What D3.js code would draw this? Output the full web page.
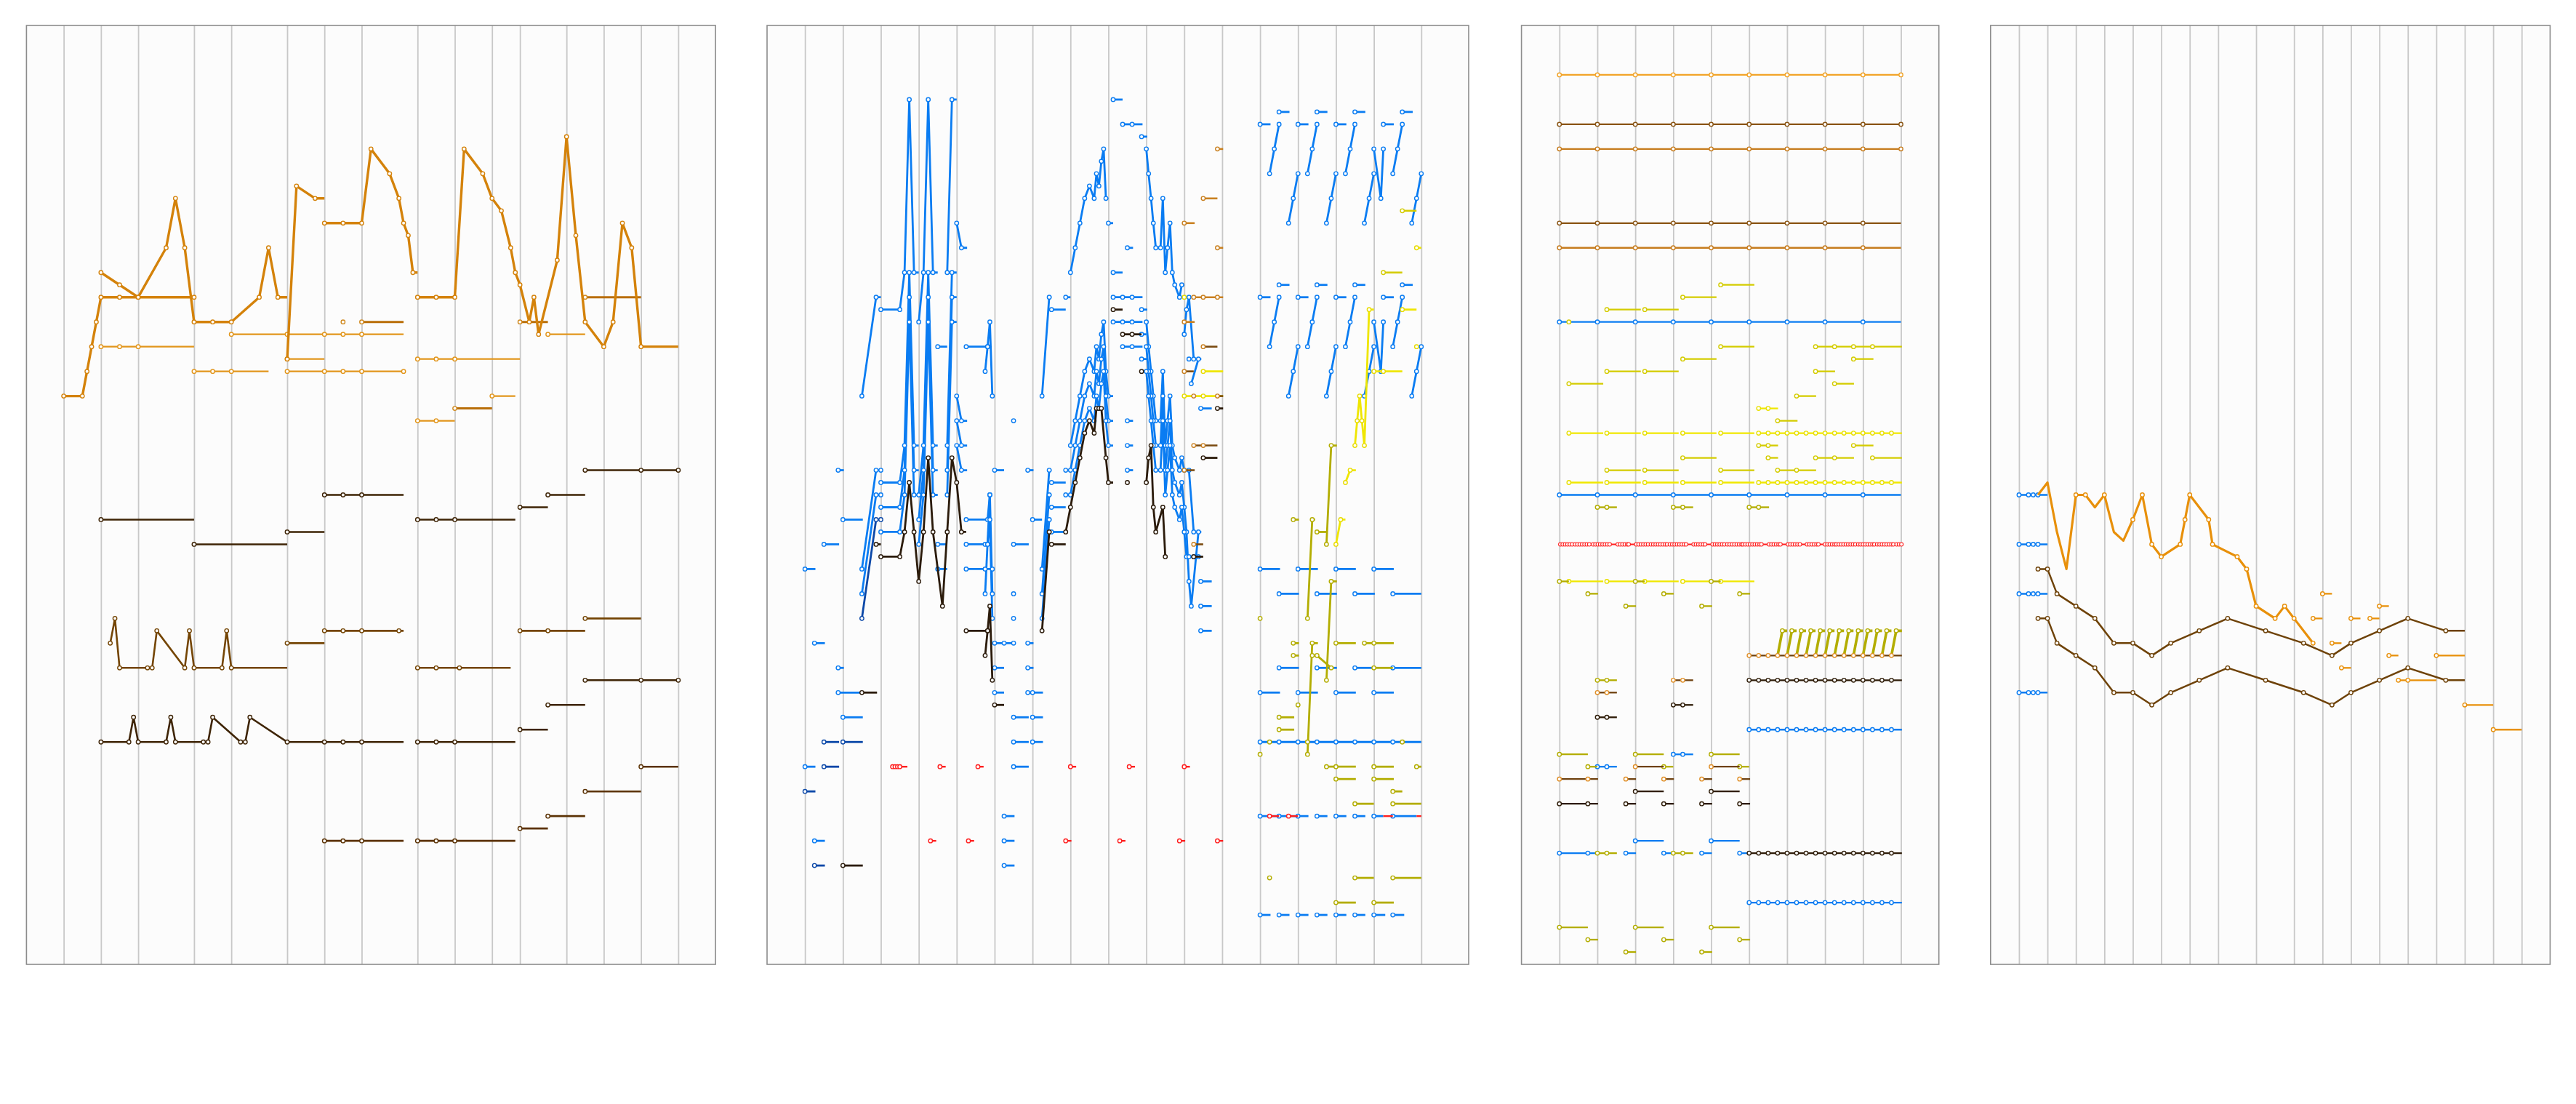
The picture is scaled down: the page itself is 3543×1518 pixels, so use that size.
<!DOCTYPE html>
<html><head><meta charset="utf-8">
<script src="https://cdn.jsdelivr.net/npm/d3@7"></script>
<style>html,body{margin:0;padding:0;background:#fff;}svg{display:block;}</style>
</head><body>
<script>
// ---------- DATA (t = time position, L = row level from top) ----------
// segment: list of [t,L] notes (circle), [t,L,0] point without circle, [tEnd] = hold last level until tEnd
const p1Grid = [2,4,6,9,11,14,16,18,21,23,25,26.5,29,31,33,35];
const p2Grid = [2,4,6,8,10,12,14,16,18,20,22,24,26,28,30,32,34.5];
const p3Grid = [4,8,12,16,20,24,28,32,36,40];
const p4Grid = [3,6,9,12,15,18,21,24,28,32,35,38,41,44,47,50,53,56];

// Panel 1
const p1OrangeThick = [
 [[2,15],[3,15],[3.25,14],[3.5,13],[3.75,12],[4,11],[5,11],[6,11],[9,11]],
 [[4,10],[5,10.5],[6,11],[7.5,9],[8,7],[8.5,9],[9,12],[10,12],[11,12],[12.5,11],[13,9],[13.5,11],[14]],
 [[14,13.5],[14.5,6.5],[15.5,7],[16]],
 [[16,8],[17,8],[18,8],[18.5,5],[19.5,6],[20,7],[20.25,8],[20.5,8.5],[20.75,10],[21]],
 [[21,11],[22,11],[23,11],[23.5,5],[24.5,6],[25,7],[25.5,7.5],[26,9],[26.25,10],[26.5,10.5],[27,12],[27.25,11],[27.5,12.5],[28.5,9.5],[29,4.5],[29.5,8.5],[30,12],[31,13],[31.5,12],[32,8],[32.5,9],[33,13],[35]]
];
const p1OrangeLight = [
 [[4,13],[5,13],[6,13],[9]],
 [[9,14],[10,14],[11,14],[13]],
 [[11,12.5],[14,12.5],[16,12.5],[17,12.5],[18,12.5],[20.25]],
 [[14,14],[16,14],[17,14],[18,14],[20.25,14]],
 [[14,13.5],[16]],
 [[21,13.5],[22,13.5],[23,13.5],[26.5]],
 [[21,16],[22,16],[23]],
 [[25,15],[26.25]],
 [[28,12.5],[30]]
];
const p1OrangeDark = [
 [[17,12]], [[18,12],[20.25]], [[23,15.5],[25]], [[26.5,12],[28]], [[30,11],[33]]
];
const p1BrownDark = [
 [[4,20],[9]], [[9,21],[14]], [[14,20.5],[16]], [[16,19],[17,19],[18,19],[20.25]],
 [[21,20],[22,20],[23,20],[26.25]], [[26.5,19.5],[28]], [[28,19],[30]], [[30,18],[33,18],[35,18]],
 [[4,29],[5.5,29],[5.75,28],[6,29],[7.5,29],[7.75,28],[8,29],[9.5,29],[9.75,29],[10,28],[11.5,29],[11.75,29],[12,28],[14,29],[16,29],[17,29],[18,29],[20.25]],
 [[21,29],[22,29],[23,29],[26.25]], [[26.5,28.5],[28]], [[28,27.5],[30]], [[30,26.5],[33,26.5],[35,26.5]]
];
const p1BrownMid = [
 [[4.5,25],[4.75,24],[5,26],[6.5,26],[6.75,26],[7,24.5],[8.5,26],[8.75,24.5],[9,26],[10.5,26],[10.75,24.5],[11,26],[14]],
 [[14,25],[16]], [[16,24.5],[17,24.5],[18,24.5],[20,24.5],[20.25]],
 [[21,26],[22,26],[23.25,26],[26]], [[26.5,24.5],[28,24.5],[30]], [[30,24],[33]]
];
const p1BrownLow = [
 [[16,33],[17,33],[18,33],[20.25]], [[21,33],[22,33],[23,33],[26.25]],
 [[26.5,32.5],[28]], [[28,32],[30]], [[30,31],[33]], [[33,30],[35]]
];

// Panel 2
const p2Blue = [
 [[2,22],[2.55]], [[2,30],[2.55]], [[2.5,25],[3.05]], [[2.5,33],[3.05]], [[3,21],[3.8]],
 [[3.75,18],[4.05]], [[3.75,26],[4.05]], [[3.75,27],[5]], [[4,20],[5.05]], [[4,28],[5.05]],
 [[5,15],[5.75,11],[6]],
 [[5,22],[5.75,18],[6,18]],
 [[5,23],[5.75,19],[6,19]],
 [[6,11.5],[7,11.5],[7.25,10],[7.5,3],[7.75,10],[8]],
 [[6,18.5],[7,18.5],[7.25,17],[7.5,10],[7.75,17],[8]],
 [[6,19.5],[7,19.5],[7.25,18],[7.5,11],[7.75,18],[8]],
 [[6,20.5],[7,20.5],[7.25,19],[7.5,12],[7.75,19],[8]],
 [[8,12],[8.25,10],[8.5,3],[8.75,10],[9]],
 [[8,19],[8.25,17],[8.5,10],[8.75,17],[9]],
 [[8,20],[8.25,18],[8.5,11],[8.75,18],[9]],
 [[8,21],[8.25,19],[8.5,12],[8.75,19],[9]],
 [[9,13],[9.5]], [[9,21],[9.5]], [[9,22],[9.5]],
 [[9.5,10],[9.75,3],[10]],
 [[9.5,17],[9.75,10],[10]],
 [[9.5,18],[9.75,11],[10]],
 [[9.5,19],[9.75,12],[10]],
 [[10,8],[10.25,9],[10.55]],
 [[10,15],[10.25,16],[10.55]], [[10,16],[10.25,17],[10.55]], [[10,17],[10.25,18],[10.55]],
 [[10.5,13],[11.63,13],[11.75,12],[11.88,15],[12]],
 [[11.5,14],[11.63,13]],
 [[10.5,20],[11.63,20],[11.75,19],[11.88,23],[12]],
 [[10.5,21],[11.5,21],[11.63,21],[11.75,20],[11.88,24],[12]],
 [[10.5,22],[11.5,22],[11.88,22],[12]],
 [[11.5,23],[11.75,19]],
 [[12,18],[12.5]],
 [[12,25],[12.5,25],[13,25]],
 [[12,26],[12.5]], [[12,27],[12.5]],
 [[12.5,32],[13.05]], [[12.5,33],[13.05]], [[12.5,34],[13.05]],
 [[13,16]], [[13,21],[13.8]], [[13,23]], [[13,24]],
 [[13,28],[13.8]], [[13,29],[13.8]], [[13,30],[13.8]],
 [[13.75,18],[14.05]], [[13.75,25],[14.05]], [[13.75,26],[14.05]], [[13.75,27],[14,27],[14.55]],
 [[14,20],[14.5]], [[14,28],[14.55]], [[14,29],[14.55]],
 [[14.5,15],[14.88,11],[15]], [[15,11.5],[15.75]],
 [[14.5,22],[14.88,18],[15]], [[14.5,23],[14.88,19],[15]], [[14.5,24],[14.88,20],[15]],
 [[15,18.5],[15.75]], [[15,19.5],[15.75]], [[15,20.5],[15.75]],
 [[15.75,11],[16]],
 [[16,10],[16.25,9],[16.5,8],[16.75,7],[17,6.5],[17.25,7],[17.37,6],[17.5,6.5],[17.63,5.5],[17.75,5],[17.87,7],[18]],
 [[16,17],[16.25,16],[16.5,15],[16.75,14],[17,13.5],[17.25,14],[17.37,13],[17.5,13.5],[17.63,12.5],[17.75,12],[17.87,14],[18,15],[18.25]],
 [[15.75,18],[16,18],[16.25,17],[16.5,16],[16.75,15],[17,14.5],[17.25,15],[17.37,14],[17.5,14.5],[17.63,13.5],[17.75,13],[17.87,15],[18,16],[18.25]],
 [[15.75,19],[16,19],[16.25,18],[16.5,17],[16.75,16],[17,15.5],[17.25,16],[17.37,15],[17.5,15.5],[17.63,14.5],[17.75,14],[17.87,16],[18,17],[18.25]],
 [[18,8],[18.25]], [[18.25,3],[18.75]], [[18.75,4],[19.25,4],[19.8]], [[19.75,4.5],[20.05]],
 [[18.25,10],[18.75]], [[18.25,11],[18.75,11],[19.25,11],[19.8]], [[18.25,12],[18.75,12],[19.25,12],[19.8]], [[18.75,13],[19.25,13],[19.8]],
 [[19,9],[19.3]], [[19.75,11.5],[20.05]], [[19.75,12.5],[20]], [[19.75,13.5],[20.05]],
 [[19,16],[19.3]], [[19,17],[19.3]], [[19,18],[19.3]],
 [[20,5],[20.12,6],[20.25,7],[20.37,8],[20.5,9],[20.75,9],[20.87,7],[21,10],[21.12,9],[21.25,8],[21.37,10],[21.5,10.5],[21.75,11],[21.87,10.5],[22]],
 [[22,12.5],[22.12,11.5],[22.25,11],[22.5,13.5],[22.6]],
 [[22.25,13.5]], [[22.37,14.5],[22.75,13.5],[22.9]],
 [[20,12],[20.12,13],[20.25,14],[20.37,15],[20.5,16],[20.75,16],[20.87,14],[21,17],[21.12,16],[21.25,15],[21.37,17],[21.5,17.5],[21.75,18],[21.87,17.5],[22,18],[22.25,18],[22.5,20.5],[22.6]],
 [[20,13],[20.12,14],[20.25,15],[20.37,16],[20.5,17],[20.75,17],[20.87,15],[21,18],[21.12,17],[21.25,16],[21.37,18],[21.5,18.5],[21.75,19],[21.87,18.5],[22,19.5],[22.12,20.5],[22.25,22.5],[22.37,23.5],[22.75,20.5],[22.9]],
 [[20,14],[20.12,15],[20.25,16],[20.37,17],[20.5,18],[20.75,18],[20.87,16],[21,19],[21.12,18],[21.25,17],[21.37,19],[21.5,19.5],[21.75,20],[21.87,19.5],[22,20.5],[22.12,21.5],[22.25,21.5],[22.5,21.5],[22.75,21.5],[22.9]],
 [[22.87,15.5],[23.45]], [[22.87,22.5],[23.45]], [[22.87,23.5],[23.45]], [[22.87,24.5],[23.45]],
 [[26,4],[26.55]], [[27,3.5],[27.55]], [[26.5,6],[26.75,5],[27,4]], [[27.5,8],[27.75,7],[28,6]],
 [[28,4],[28.55]], [[29,3.5],[29.55]], [[28.5,6],[28.75,5],[29,4]], [[29.5,8],[29.75,7],[30,6]],
 [[30,4],[30.55]], [[31,3.5],[31.55]], [[30.5,6],[30.75,5],[31,4]], [[31.5,8],[31.75,7],[32,6]],
 [[32,5],[32.37,7],[32.5,5]],
 [[32.5,4],[33.05]], [[33.5,3.5],[34.05]], [[33,6],[33.25,5],[33.5,4]], [[34,8],[34.25,7],[34.5,6]],
 [[26,11],[26.55]], [[27,10.5],[27.55]], [[26.5,13],[26.75,12],[27,11]], [[27.5,15],[27.75,14],[28,13]],
 [[28,11],[28.55]], [[29,10.5],[29.55]], [[28.5,13],[28.75,12],[29,11]], [[29.5,15],[29.75,14],[30,13]],
 [[30,11],[30.55]], [[31,10.5],[31.55]], [[30.5,13],[30.75,12],[31,11]], [[31.5,15],[31.75,14],[32,13]],
 [[32,12],[32.37,14],[32.5,12]],
 [[32.5,11],[33.05]], [[33.5,10.5],[34.05]], [[33,13],[33.25,12],[33.5,11]], [[34,15],[34.25,14],[34.5,13]],
 [[26,22],[27.05]], [[28,22],[29.05]], [[30,22],[31.05]], [[32,22],[33.05]],
 [[27,23],[28.05]], [[29,23],[30.05]], [[31,23],[32.05]], [[33,23],[34.5]],
 [[27,26],[28.05]], [[29,26],[30.05]], [[31,26],[32.05]], [[33,26],[34.5]],
 [[26,27],[27.05]], [[28,27],[29.05]], [[30,27],[31.05]], [[32,27],[33.05]],
 [[26,29],[27,29],[28,29],[29,29],[30,29],[31,29],[32,29],[33,29],[34.5]],
 [[26,32],[27,32],[28,32],[28.55]], [[29,32],[29.55]], [[30,32],[30.55]], [[31,32],[31.55]], [[32,32],[32.5]], [[33,32],[34.25]],
 [[26,36],[26.55]], [[27,36],[27.55]], [[28,36],[28.55]], [[29,36],[29.55]], [[30,36],[30.55]], [[31,36],[31.55]], [[32,36],[32.6]], [[33,36],[33.6]]
];
const p2BlueDark = [
 [[2,31],[2.55]], [[2.5,34],[3.05]], [[3,29],[3.8]], [[3,30],[3.8]], [[4,29],[5.05]], [[5,24],[5.75,20],[6,20]]
];
const p2Red = [
 [[6.62,30],[6.75,30],[6.88,30],[7,30],[7.4]], [[9.12,30],[9.42]], [[11.12,30],[11.42]], [[16,30],[16.3]], [[19.1,30],[19.4]], [[22,30],[22.3]],
 [[8.62,33],[8.92]], [[10.62,33],[10.92]], [[15.75,33],[16.05]], [[18.6,33],[18.9]], [[21.75,33],[22.05]], [[23.75,33],[24.05]],
 [[26.5,32],[27]], [[27.5,32],[28]], [[32.5,32,0],[33]], [[34.25,32,0],[34.5]]
];
const p2BrownDark = [
 [[4,34],[5.05]], [[5,27],[5.8]], [[5.75,21],[6]],
 [[6,21.5],[7,21.5],[7.25,20.5],[7.5,18.5],[7.75,20.5],[8,22.5],[8.25,20.5],[8.5,17.5],[8.75,20.5],[9.25,23.5],[9.5,20.5],[9.75,17.5],[10,18.5],[10.25,20.5],[10.5]],
 [[10.5,24.5],[11.63,24.5],[11.75,23.5],[11.88,26.5],[12]],
 [[11.5,25.5],[11.63,24.5]],
 [[12,27.5],[12.5]],
 [[14.5,24.5],[14.88,20.5],[15]], [[15,21],[15.75]],
 [[15.75,20.5],[16,19.5],[16.25,18.5],[16.5,17.5],[16.75,16.5],[17,16],[17.25,16.5],[17.37,15.5],[17.5,15.5],[17.63,15.5],[17.87,17.5],[18,18.5],[18.25]],
 [[18.25,11.5],[18.75]], [[18.75,12.5],[19.25,12.5],[19.75]], [[19.75,14]], [[19,18.5]],
 [[20,18.5],[20.12,17.5],[20.25,17],[20.37,19.5],[20.5,20.5],[20.87,19.5],[21,21.5],[21.12]],
 [[22.5,21.5],[23]], [[23,17.5],[23.75]], [[23.75,15.5],[24.05]]
];
const p2BrownMid = [
 [[22.5,21],[23]], [[22,14],[22.5]], [[23,13],[23.75]], [[22.5,17],[23,17],[23.75]], [[22,18],[22.55]], [[23.75,15],[24.05]]
];
const p2Orange = [
 [[22,8],[22.55]], [[23,7],[23.75]], [[23.75,5],[24.05]], [[23.75,9],[24.05]], [[22,12],[22.55]],
 [[22.5,11],[23,11],[23.75,11],[24.05]], [[22.5,15]]
];
const p2Yellow = [
 [[22,11]], [[23,14],[24.05]], [[22,15],[23,15],[24.05]],
 [[30.5,18.5],[30.75,18],[31.05]],
 [[31,17],[31.12,16],[31.25,15],[31.37,16],[31.5,17],[31.75,11.5],[32]],
 [[32,14],[32.5,14],[33.5]], [[33.5,11.5],[34.25]], [[34.25,9],[34.5]], [[30,21],[30.25,20],[30.5]], [[34.25,13]]
];
const p2YellowMid = [
 [[33.5,7.5],[34.25]], [[32.5,10],[33.5]]
];
const p2Olive = [
 [[29.5,21],[29.75,17],[30.05]],
 [[27.75,20],[28.05]], [[28.5,24],[28.75,20],[28.9]], [[29,20.5],[29.5]],
 [[26,24]], [[27.75,25],[28.05]], [[30,25],[31.05]], [[31.5,25],[32,25],[33.05]],
 [[27.75,25.5],[28.05]], [[28.75,25.5],[29,25.5],[29.75,26],[29.9]], [[29.5,26.5],[29.75,22.5],[30.05]],
 [[28.5,29.5],[28.75,25],[29.05]],
 [[32,26],[33]], [[28,27.5]], [[27,28],[27.8]], [[27,28.5],[27.8]], [[26.5,29]], [[28.5,29]], [[33.5,29]], [[26,29.5]],
 [[29.5,30],[30,30],[31.05]], [[32,30],[33.05]], [[34.25,30],[34.5]],
 [[30,30.5],[31.05]], [[32,30.5],[33.05]], [[33,31],[33.5]], [[31,31.5],[32]], [[33,31.5],[34.5]],
 [[26.5,34.5]], [[31,34.5],[32]], [[33,34.5],[34.5]], [[30,35.5],[31.05]], [[32,35.5],[33.05]]
];

// Panel 3
const p3Orange = [
 [[4,2],[8,2],[12,2],[16,2],[20,2],[24,2],[28,2],[32,2],[36,2],[40,2]]
];
const p3Brown = [
 [[4,4],[8,4],[12,4],[16,4],[20,4],[24,4],[28,4],[32,4],[36,4],[40,4]],
 [[4,8],[8,8],[12,8],[16,8],[20,8],[24,8],[28,8],[32,8],[36,8],[40]]
];
const p3OrangeBrown = [
 [[4,5],[8,5],[12,5],[16,5],[20,5],[24,5],[28,5],[32,5],[36,5],[40,5]],
 [[4,9],[8,9],[12,9],[16,9],[20,9],[24,9],[28,9],[32,9],[36,9],[40]]
];
const p3Blue = [
 [[4,12],[8,12],[12,12],[16,12],[20,12],[24,12],[28,12],[32,12],[36,12],[40]],
 [[4,19],[8,19],[12,19],[16,19],[20,19],[24,19],[28,19],[32,19],[36,19],[40]],
 [[24,28.5],[25,28.5],[26,28.5],[27,28.5],[28,28.5],[29,28.5],[30,28.5],[31,28.5],[32,28.5],[33,28.5],[34,28.5],[35,28.5],[36,28.5],[37,28.5],[38,28.5],[39,28.5],[40.1]],
 [[24,35.5],[25,35.5],[26,35.5],[27,35.5],[28,35.5],[29,35.5],[30,35.5],[31,35.5],[32,35.5],[33,35.5],[34,35.5],[35,35.5],[36,35.5],[37,35.5],[38,35.5],[39,35.5],[40.1]],
 [[16,29.5],[17,29.5],[18.1]], [[8,30],[9,30],[10.06]],
 [[12,33],[15]], [[20,33],[23]],
 [[4,33.5],[7,33.5],[8]], [[11,33.5],[12.07]], [[15,33.5],[16]], [[19,33.5],[20.07]], [[23,33.5],[24]]
];
const p3RedLevel = 21;
const p3RedOnsets = [
 4.1,4.35,4.6,4.85,5.1,5.35, 5.65,5.9,6.15,6.4,6.65,6.9,7.15, 7.55,7.8,8.05,8.3,8.55,8.8,9.05,9.3,
 10.15,10.4,10.65,10.9,11.15,11.3, 12.1,12.35,12.6,12.85,13.1,13.35, 13.65,13.9,14.15,14.4,14.65,14.9,15.15,15.35,
 15.65,15.9,16.15,16.4,16.65,16.9,17.15,17.35, 18.15,18.4,18.65,18.9,19.15,19.35, 20.15,20.4,20.65,20.9,21.15,21.4,
 21.7,21.95,22.2,22.45,22.7,22.95,23.2,23.35, 23.6,23.85,24.1,24.35,24.6,24.85,25.1,25.3, 26.1,26.35,26.6,26.85,27.1,27.3,
 28.1,28.35,28.6,28.85,29.1,29.35, 30.1,30.35,30.6,30.85,31.1,31.3, 32.0,32.25,32.5,32.75,33.0,33.2,
 33.45,33.7,33.95,34.2,34.45,34.7,34.95,35.2, 35.5,35.75,36.0,36.25,36.5,36.75,37.0,37.2,
 37.5,37.75,38.0,38.25,38.5,38.75,39.0,39.2, 39.55,39.8,40.05
];
const p3RedEnd = 40.1;
const p3YellowBright = [
 [[5,16.5],[8.62]], [[9,16.5],[12.58]], [[13,16.5],[16.57]], [[17,16.5],[20.56]], [[21,16.5],[24.55]],
 [[25,16.5],[26,16.5],[27,16.5],[28,16.5],[29,16.5],[30,16.5],[31,16.5],[32,16.5],[33,16.5],[34,16.5],[35,16.5],[36,16.5],[37,16.5],[38,16.5],[39,16.5],[40.1]],
 [[5,18.5],[8.62]], [[9,18.5],[12.58]], [[13,18.5],[16.57]], [[17,18.5],[20.56]], [[21,18.5],[24.55]],
 [[25,18.5],[26,18.5],[27,18.5],[28,18.5],[29,18.5],[30,18.5],[31,18.5],[32,18.5],[33,18.5],[34,18.5],[35,18.5],[36,18.5],[37,18.5],[38,18.5],[39,18.5],[40.1]],
 [[5,22.5],[8.62]], [[9,22.5],[12.58]], [[13,22.5],[16.57]], [[17,22.5],[20]], [[21,22.5],[24.55]],
 [[25,15.5],[26,15.5],[27.05]]
];
const p3YellowMid = [
 [[21,10.5],[24.55]], [[17,11],[20.56]], [[9,11.5],[12.58]], [[13,11.5],[16.57]], [[5,12]],
 [[21,13],[24.55]], [[31,13],[33,13],[35,13],[37,13],[40.1]],
 [[17,13.5],[20.56]], [[35,13.5],[37.1]],
 [[9,14],[12.58]], [[13,14],[16.57]], [[31,14],[33.06]],
 [[5,14.5],[8.62]], [[33,14.5],[35.05]],
 [[29,15],[31.06]], [[27,16],[29.1]],
 [[25,17],[26,17],[27.05]], [[35,17],[37.1]],
 [[17,17.5],[20.56]], [[26,17.5],[27.05]], [[31,17.5],[33,17.5],[35.05]], [[37,17.5],[40.1]],
 [[9,18],[12.58]], [[13,18],[16.57]], [[21,18],[24.55]], [[27,18],[29,18],[31.06]]
];
const p3Olive = [
 [[8,19.5],[9,19.5],[10.06]], [[16,19.5],[17,19.5],[18.1]], [[24,19.5],[25,19.5],[26.1]],
 [[4,22.5],[5]], [[12,22.5],[13]], [[20,22.5],[21]],
 [[7,23],[8.07]], [[15,23],[16.05]], [[23,23],[24.1]],
 [[11,23.5],[12.07]], [[19,23.5],[20.1]],
 [[8,26.5],[9,26.5],[10.06]],
 [[4,29.5],[7]], [[12,29.5],[15]], [[20,29.5],[23]],
 [[7,30],[8]], [[15,30],[16]], [[23,30],[24]],
 [[8,33.5],[9,33.5],[10.06]], [[16,33.5],[17,33.5],[18.1]],
 [[4,36.5],[7]], [[12,36.5],[15]], [[20,36.5],[23]],
 [[7,37],[8.07]], [[15,37],[16.07]], [[23,37],[24.1]],
 [[11,37.5],[12.07]], [[19,37.5],[20.1]]
];
const p3OliveRise = [
 [[27,25.5,0],[27.5,24.5],[28]], [[28,25.5,0],[28.5,24.5],[29]], [[29,25.5,0],[29.5,24.5],[30]],
 [[30,25.5,0],[30.5,24.5],[31]], [[31,25.5,0],[31.5,24.5],[32]], [[32,25.5,0],[32.5,24.5],[33]],
 [[33,25.5,0],[33.5,24.5],[34]], [[34,25.5,0],[34.5,24.5],[35]], [[35,25.5,0],[35.5,24.5],[36]],
 [[36,25.5,0],[36.5,24.5],[37]], [[37,25.5,0],[37.5,24.5],[38]], [[38,25.5,0],[38.5,24.5],[39]],
 [[39,25.5,0],[39.5,24.5],[40.1]]
];
const p3BrownOrange = [
 [[24,25.5],[25,25.5],[26,25.5],[27,25.5],[28,25.5],[29,25.5],[30,25.5],[31,25.5],[32,25.5],[33,25.5],[34,25.5],[35,25.5],[36,25.5],[37,25.5],[38,25.5],[39,25.5],[40.1]],
 [[8,27],[9,27],[10.06]], [[16,26.5],[17,26.5],[18.1]],
 [[12,30],[15]], [[20,30],[23]],
 [[4,30.5],[7,30.5],[8.07]], [[11,30.5],[12.07]], [[15,30.5],[16.07]], [[19,30.5],[20.1]], [[23,30.5],[24.1]]
];
const p3DarkBrown = [
 [[24,26.5],[25,26.5],[26,26.5],[27,26.5],[28,26.5],[29,26.5],[30,26.5],[31,26.5],[32,26.5],[33,26.5],[34,26.5],[35,26.5],[36,26.5],[37,26.5],[38,26.5],[39,26.5],[40.1]],
 [[24,33.5],[25,33.5],[26,33.5],[27,33.5],[28,33.5],[29,33.5],[30,33.5],[31,33.5],[32,33.5],[33,33.5],[34,33.5],[35,33.5],[36,33.5],[37,33.5],[38,33.5],[39,33.5],[40.1]],
 [[16,27.5],[17,27.5],[18.1]], [[8,28],[9,28],[10.06]],
 [[12,31],[15]], [[20,31],[23]],
 [[4,31.5],[7,31.5],[8.07]], [[11,31.5],[12.07]], [[15,31.5],[16.07]], [[19,31.5],[20.1]], [[23,31.5],[24.1]]
];

// Panel 4
const p4Blue = [
 [[3,19],[4,19],[4.5,19],[5,19],[6]], [[3,21],[4,21],[4.5,21],[5,21],[6]],
 [[3,23],[4,23],[4.5,23],[5,23],[6]], [[3,27],[4,27],[4.5,27],[5,27],[6]]
];
const p4OrangeMain = [
 [[5,19,0],[6,18.5,0],[7,20.5,0],[8,22,0],[9,19],[10,19],[11,19.5,0],[12,19],[13,20.5,0],[14,20.85,0],[15,20],[16,19],[17,21],[18,21.5],[20,21],[20.5,20],[21,19],[23,20],[23.4,21],[26,21.5],[27,22],[28,23.5],[30,24],[31,23.5],[32,24],[34,25]]
];
const p4OrangeShort = [
 [[34,24],[35]], [[35,23],[36]], [[36,25],[37]], [[37,26],[38]], [[38,24],[39]], [[40,24],[41]],
 [[41,23.5],[42]], [[42,25.5],[43]], [[43,26.5],[44,26.5],[47]], [[47,25.5],[50]], [[50,27.5],[53]], [[53,28.5],[56]]
];
const p4Brown = [
 [[5,22],[6,22],[7,23],[9,23.5],[11,24],[13,25],[15,25],[17,25.5],[19,25],[22,24.5],[25,24],[29,24.5],[33,25],[36,25.5],[38,25],[41,24.5],[44,24],[48,24.5],[50]],
 [[5,24],[6,24],[7,25],[9,25.5],[11,26],[13,27],[15,27],[17,27.5],[19,27],[22,26.5],[25,26],[29,26.5],[33,27],[36,27.5],[38,27],[41,26.5],[44,26],[48,26.5],[50]]
];

// ---------- LAYOUT / STYLE ----------
const W = 3543, H = 1518, TOP = 35, BOTTOM = 1326, LMAX = 38;
const layout = [
  {x0:36.4,  x1:984.1,  n:37, grid:p1Grid},
  {x0:1055,  x1:2020,   n:37, grid:p2Grid},
  {x0:2092.6,x1:2666.7, n:44, grid:p3Grid},
  {x0:2737.8,x1:3507.4, n:59, grid:p4Grid}
];
const BLUE="#0a7cf2";
const series = [
  // panel, data, line colour, circle colour, line width
  [0,p1OrangeLight,"#e2961c","#e2961c",2.4],
  [0,p1OrangeDark,"#b96e08","#d08a20",3.0],
  [0,p1OrangeThick,"#d4820a","#d4820a",3.4],
  [0,p1BrownMid,"#744504","#744504",2.6],
  [0,p1BrownLow,"#5b3204","#5b3204",2.6],
  [0,p1BrownDark,"#3e2406","#3e2406",2.6],
  [1,p2Blue,BLUE,BLUE,2.8],
  [1,p2BlueDark,"#0b48a8","#0b48a8",2.8],
  [1,p2Olive,"#b3ad00","#b3ad00",2.8],
  [1,p2YellowMid,"#d4cc00","#d4cc00",2.6],
  [1,p2Yellow,"#efe600","#e8dc00",2.8],
  [1,p2Red,"#ff1f1f","#ff1f1f",2.4],
  [1,p2Orange,"#c98020","#c98020",2.6],
  [1,p2BrownMid,"#7a4a10","#c98020",2.6],
  [1,p2BrownDark,"#2b1b0b","#2b1b0b",2.8],
  [2,p3Orange,"#f2a428","#f2a428",2.3],
  [2,p3Brown,"#8a5514","#8a5514",2.3],
  [2,p3OrangeBrown,"#c67c1e","#c67c1e",2.3],
  [2,p3Blue,BLUE,BLUE,2.3],
  [2,p3YellowMid,"#d4cc00","#d4cc00",2.3],
  [2,p3YellowBright,"#f0e800","#e8e000",2.3],
  [2,p3Olive,"#b3ad00","#b3ad00",2.3],
  [2,p3OliveRise,"#b3ad00","#b3ad00",3.6],
  [2,p3BrownOrange,"#6f4210","#e0902a",2.3],
  [2,p3DarkBrown,"#2e1c08","#2e1c08",2.3],
  [3,p4Blue,BLUE,BLUE,2.5],
  [3,p4Brown,"#6e4208","#6e4208",2.5],
  [3,p4OrangeShort,"#e8900a","#e8900a",2.3],
  [3,p4OrangeMain,"#e8900a","#e8900a",3.2]
];

// ---------- DRAW ----------
const svg = d3.select("body").append("svg").attr("width",W).attr("height",H);
svg.append("rect").attr("width",W).attr("height",H).attr("fill","#ffffff");
const y = d3.scaleLinear().domain([0,LMAX]).range([TOP,BOTTOM]);
const xs = layout.map(p => d3.scaleLinear().domain([0,p.n]).range([p.x0,p.x1]));
const groups = layout.map((p,i) => {
  const g = svg.append("g");
  g.append("rect").attr("x",p.x0).attr("y",TOP).attr("width",p.x1-p.x0).attr("height",BOTTOM-TOP)
    .attr("fill","#fcfcfc");
  const ax = d3.axisBottom(xs[i]).tickValues(p.grid).tickSize(-(BOTTOM-TOP)).tickFormat("");
  const ag = g.append("g").attr("transform",`translate(0,${BOTTOM})`).call(ax);
  ag.select(".domain").remove();
  ag.selectAll(".tick line").attr("stroke","#c8c8c8").attr("stroke-width",1.8);
  return g;
});

function expand(seg){
  const pts=[];
  seg.forEach(p=>{
    if(p.length===1){ pts.push([p[0], pts[pts.length-1][1], false]); }
    else pts.push([p[0], p[1], p[2]!==0]);
  });
  return pts;
}

function drawSeries(pi, data, lc, cc, lw){
  const g = groups[pi].append("g");
  const x = xs[pi];
  const line = d3.line().x(d=>x(d[0])).y(d=>y(d[1]));
  const all = data.map(expand);
  all.forEach(pts=>{
    if(pts.length>1) g.append("path").attr("d",line(pts)).attr("fill","none")
      .attr("stroke",lc).attr("stroke-width",lw).attr("stroke-linejoin","round");
  });
  all.forEach(pts=>{
    g.selectAll(null).data(pts.filter(d=>d[2])).enter().append("circle")
      .attr("cx",d=>x(d[0])).attr("cy",d=>y(d[1])).attr("r",2.7)
      .attr("fill","#ffffff").attr("stroke",cc).attr("stroke-width",1.4);
  });
}

// panel 3 red (dense repeated notes on one row)
function drawRed(){
  const g = groups[2].append("g");
  const x = xs[2];
  const pts = p3RedOnsets.map(t=>[t,p3RedLevel]);
  const line = d3.line().x(d=>x(d[0])).y(d=>y(d[1]));
  g.append("path").attr("d",line(pts.concat([[p3RedEnd,p3RedLevel]]))).attr("fill","none")
    .attr("stroke","#ff1f1f").attr("stroke-width",2.0);
  g.selectAll(null).data(pts).enter().append("circle")
    .attr("cx",d=>x(d[0])).attr("cy",d=>y(d[1])).attr("r",2.5)
    .attr("fill","#ffffff").attr("stroke","#ff1f1f").attr("stroke-width",1.1);
}

series.forEach((s,i)=>{
  drawSeries(s[0],s[1],s[2],s[3],s[4]);
  if(s[1]===p3YellowBright) drawRed();
});

// panel borders on top
layout.forEach((p,i)=>{
  groups[i].append("rect").attr("x",p.x0).attr("y",TOP).attr("width",p.x1-p.x0).attr("height",BOTTOM-TOP)
    .attr("fill","none").attr("stroke","#8c8c8c").attr("stroke-width",1.6);
});
</script>
</body></html>
